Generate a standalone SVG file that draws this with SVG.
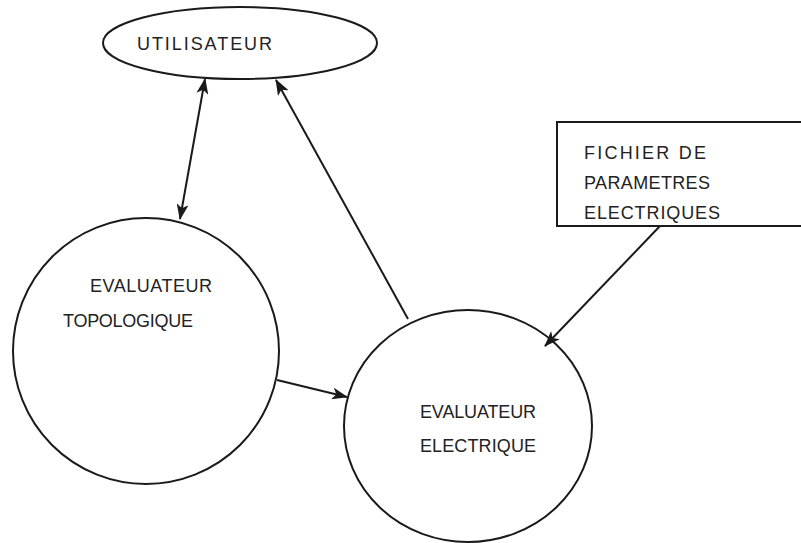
<svg xmlns="http://www.w3.org/2000/svg" width="801" height="543" viewBox="0 0 801 543">
<style>
.shape{fill:none;stroke:#1a1a1a;stroke-width:2}
.lbl{font-family:"Liberation Sans",Arial,sans-serif;font-size:18px;fill:#222}
.conn{fill:none;stroke:#1a1a1a;stroke-width:2}
</style>
<defs>
<marker id="ah" viewBox="0 0 16 12" refX="15" refY="6" markerWidth="16" markerHeight="12" markerUnits="userSpaceOnUse" orient="auto-start-reverse">
<path d="M0,0 L16,6 L0,12 L4,6 Z" fill="#1a1a1a"/>
</marker>
</defs>
<rect width="801" height="543" fill="#fff"/>
<g id="utilisateur">
<ellipse class="shape" cx="240" cy="43" rx="137" ry="36"/>
<text class="lbl" x="137" y="50" textLength="135" lengthAdjust="spacing">UTILISATEUR</text>
</g>
<g id="fichier">
<path class="shape" d="M805,122 L557,122 L557,226 L805,226"/>
<text class="lbl" x="584" y="159" textLength="122" lengthAdjust="spacing">FICHIER DE</text>
<text class="lbl" x="584" y="189" textLength="126" lengthAdjust="spacing">PARAMETRES</text>
<text class="lbl" x="584" y="219" textLength="136" lengthAdjust="spacing">ELECTRIQUES</text>
</g>
<g id="eval-topo">
<circle class="shape" cx="146" cy="351" r="133"/>
<text class="lbl" x="90" y="292" textLength="122" lengthAdjust="spacing">EVALUATEUR</text>
<text class="lbl" x="63" y="327" textLength="130" lengthAdjust="spacing">TOPOLOGIQUE</text>
</g>
<g id="eval-elec">
<ellipse class="shape" cx="468" cy="426" rx="124" ry="116"/>
<text class="lbl" x="420" y="418" textLength="116" lengthAdjust="spacing">EVALUATEUR</text>
<text class="lbl" x="420" y="452" textLength="116" lengthAdjust="spacing">ELECTRIQUE</text>
</g>
<g id="connectors">
<line class="conn" x1="180" y1="219" x2="205" y2="79" marker-start="url(#ah)" marker-end="url(#ah)"/>
<line class="conn" x1="408" y1="319" x2="276" y2="80" marker-end="url(#ah)"/>
<line class="conn" x1="660" y1="226" x2="545" y2="346" marker-end="url(#ah)"/>
<line class="conn" x1="277" y1="380" x2="347" y2="397" marker-end="url(#ah)"/>
</g>
</svg>
